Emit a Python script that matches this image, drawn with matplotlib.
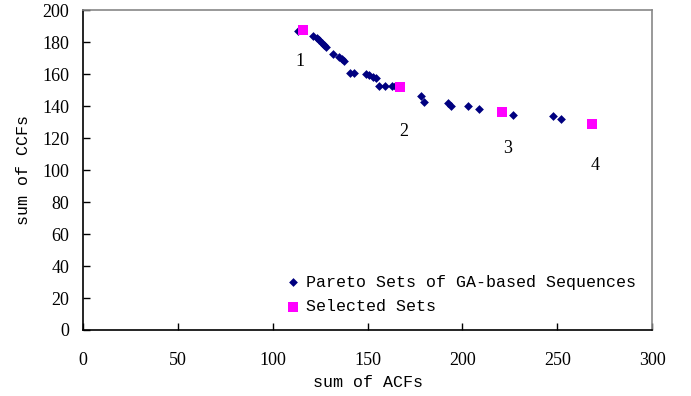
import matplotlib.pyplot as plt

# Pareto sets (sum of ACFs, sum of CCFs)
pareto_acf = [113.5, 121.4, 123.2, 124.4, 126.2, 127.2, 127.9, 132.0, 135.0, 136.4, 137.8,
              140.7, 142.9, 149.2, 150.9, 153.0, 154.5, 156.2, 159.2, 162.7, 164.5,
              178.0, 179.8, 192.6, 193.8, 203.1, 208.6, 226.8, 247.9, 252.0]
pareto_ccf = [187.1, 184.0, 182.5, 181.5, 179.8, 178.3, 177.3, 172.7, 170.6, 169.4, 168.5,
              161.0, 161.0, 160.2, 159.4, 158.5, 157.5, 152.7, 152.7, 152.7, 152.7,
              146.4, 142.9, 141.9, 140.4, 140.2, 138.3, 134.5, 133.9, 131.9]

# selected sets
sel_acf = [116.1, 167.1, 221.0, 268.2]
sel_ccf = [187.7, 152.3, 136.6, 128.9]
sel_names = ["1", "2", "3", "4"]
name_pos = [(114.4, 168.0), (169.2, 124.5), (224.0, 113.9), (270.0, 103.0)]

serif = ["Liberation Serif", "DejaVu Serif"]
mono = ["Liberation Mono", "DejaVu Sans Mono"]

fig = plt.figure(figsize=(6.91, 3.96), dpi=100)
ax = fig.add_axes([0.1201, 0.1667, 0.8235, 0.8068])

ax.scatter(pareto_acf, pareto_ccf, marker="D", s=20, color="#000080", linewidths=0,
           label="Pareto Sets of GA-based Sequences", zorder=3)
ax.scatter(sel_acf, sel_ccf, marker="s", s=48, color="#FF00FF", linewidths=0,
           label="Selected Sets", zorder=4)

for name, (px, py) in zip(sel_names, name_pos):
    ax.text(px, py, name, fontsize=13, family=serif, ha="center", va="center")

ax.set_xlim(0, 300)
ax.set_ylim(0, 200)
ax.set_xticks(range(0, 301, 50))
ax.set_yticks(range(0, 201, 20))
ax.tick_params(direction="in", length=5, width=1)
ax.tick_params(axis="x", pad=16)
ax.tick_params(axis="y", pad=10)
for lab in ax.get_xticklabels() + ax.get_yticklabels():
    lab.set_family(serif)
    lab.set_fontsize(13)

for side in ["top", "right"]:
    ax.spines[side].set_color("#888888")
    ax.spines[side].set_linewidth(1.2)
for side in ["left", "bottom"]:
    ax.spines[side].set_color("black")
    ax.spines[side].set_linewidth(1.2)

ax.set_xlabel("sum of ACFs", fontsize=12, family=mono, labelpad=4)
ax.set_ylabel("sum of CCFs", fontsize=12, family=mono, labelpad=8)

ax.legend(loc="lower left", bbox_to_anchor=(0.328, 0.003), frameon=False,
          prop={"family": mono, "size": 12}, handletextpad=0.3, handlelength=1.0,
          labelspacing=0.55, scatterpoints=1)

fig.savefig("out.png", dpi=100)
